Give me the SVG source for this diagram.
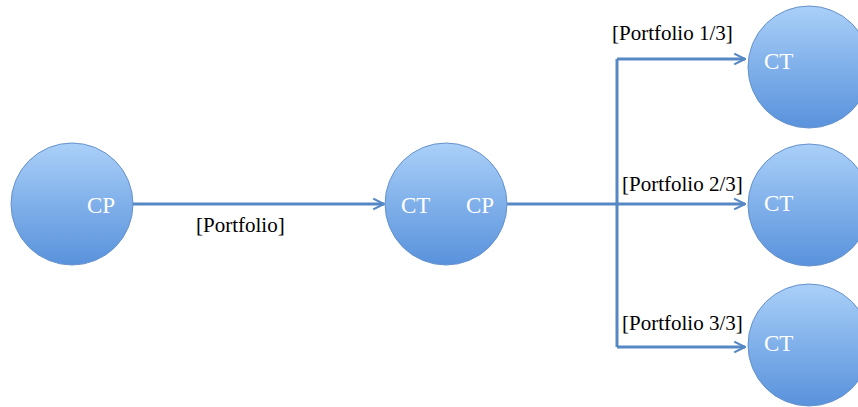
<svg xmlns="http://www.w3.org/2000/svg" width="858" height="407" viewBox="0 0 858 407">
<defs>
<linearGradient id="g" x1="0" y1="0" x2="0" y2="1">
<stop offset="0" stop-color="#aad0f8"/>
<stop offset="0.5" stop-color="#80b0ea"/>
<stop offset="1" stop-color="#5992dc"/>
</linearGradient>
<marker id="ah" viewBox="0 0 10 10" refX="9" refY="5" markerWidth="4.5" markerHeight="4.5" orient="auto" markerUnits="strokeWidth">
<path d="M1,1 L9,5 L1,9" fill="none" stroke="#5588c4" stroke-width="1.6"/>
</marker>
</defs>
<style>
.node circle{fill:url(#g);stroke:#6592cc;stroke-width:1}
.nt{font-family:"Liberation Serif",serif;font-size:23px;fill:#ffffff}
.lbl{font-family:"Liberation Serif",serif;font-size:21px;fill:#000000}
.c{fill:none;stroke:#5588c4;stroke-width:3}
</style>
<rect width="858" height="407" fill="#ffffff"/>
<g id="connectors">
<line class="c" x1="131" y1="204" x2="384" y2="204" marker-end="url(#ah)"/>
<line class="c" x1="507" y1="204" x2="745" y2="204" marker-end="url(#ah)"/>
<line class="c" x1="617" y1="59" x2="617" y2="347"/>
<polyline class="c" points="617,59 745,59" marker-end="url(#ah)"/>
<polyline class="c" points="617,347 745,347" marker-end="url(#ah)"/>
<text class="lbl" x="196" y="232">[Portfolio]</text>
<text class="lbl" x="612" y="40">[Portfolio 1/3]</text>
<text class="lbl" x="622" y="191">[Portfolio 2/3]</text>
<text class="lbl" x="622" y="330">[Portfolio 3/3]</text>
</g>
<g id="n1" class="node"><circle cx="72" cy="204" r="61"/><text class="nt" x="87" y="213">CP</text></g>
<g id="n2" class="node"><circle cx="446" cy="204" r="61"/><text class="nt" x="401" y="213">CT</text><text class="nt" x="466" y="213">CP</text></g>
<g id="n3" class="node"><circle cx="809" cy="67" r="61"/><text class="nt" x="764" y="69">CT</text></g>
<g id="n4" class="node"><circle cx="809" cy="205" r="61"/><text class="nt" x="764" y="211">CT</text></g>
<g id="n5" class="node"><circle cx="809" cy="345" r="61"/><text class="nt" x="764" y="351">CT</text></g>
</svg>
